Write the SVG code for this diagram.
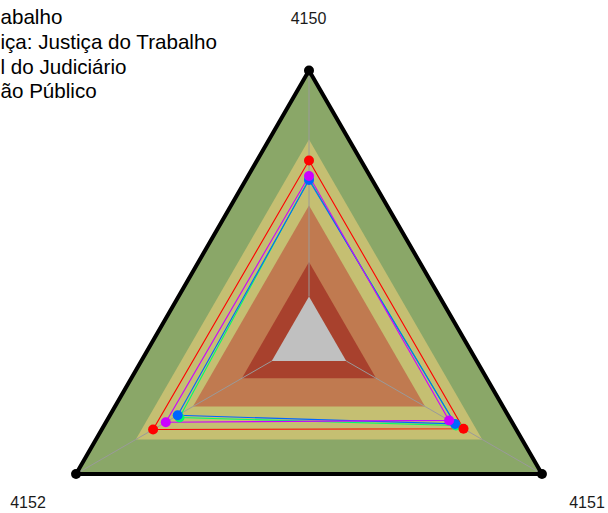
<svg xmlns="http://www.w3.org/2000/svg" width="608" height="513" viewBox="0 0 608 513">
<style>
.lbl{font-family:"Liberation Sans",Arial,sans-serif;font-size:16px;fill:#1a1a1a}
.leg{font-family:"Liberation Sans",Arial,sans-serif;font-size:20.6px;fill:#000}
.axis{stroke:#9a9a9a;stroke-width:1;fill:none}
.ser{fill:none;stroke-width:1.1}
</style>
<rect width="608" height="513" fill="#ffffff"/>
<g id="bands">
<polygon points="309,70.5 541.96,474 76.04,474" fill="#8aa768"/>
<polygon points="309,139.5 482.2,439.5 135.8,439.5" fill="#c5bf72"/>
<polygon points="309,205.5 425.05,406.5 192.95,406.5" fill="#c07a50"/>
<polygon points="309,262 376.1,378.25 241.9,378.25" fill="#a8412d"/>
<polygon points="309,296.5 346.24,361 271.76,361" fill="#c0c0c0"/>
</g>
<g id="axes">
<line class="axis" x1="309" y1="296.5" x2="309" y2="70.5"/>
<line class="axis" x1="346.24" y1="361" x2="541.96" y2="474"/>
<line class="axis" x1="271.76" y1="361" x2="76.04" y2="474"/>
</g>
<g id="connectors">
<polygon class="ser" stroke="#00ff66" points="309,179 456,425.5 179.5,417.5"/>
<polygon class="ser" stroke="#0066ff" points="309,180 455.1,423.9 177.7,415.3"/>
<polygon class="ser" stroke="#cc00ff" points="309,176 449.1,420.4 165.8,422.2"/>
<polygon class="ser" stroke="#ff0000" points="309,160.5 463.5,428.7 153.1,429.5"/>
</g>
<g id="series-green" fill="#00ff66">
<circle cx="309" cy="179" r="5"/><circle cx="456" cy="425.5" r="5"/><circle cx="179.5" cy="417.5" r="5"/>
</g>
<g id="series-blue" fill="#0066ff">
<circle cx="309" cy="180" r="5"/><circle cx="455.1" cy="423.9" r="5"/><circle cx="177.7" cy="415.3" r="5"/>
</g>
<g id="series-magenta" fill="#cc00ff">
<circle cx="309" cy="176" r="5"/><circle cx="449.1" cy="420.4" r="5"/><circle cx="165.8" cy="422.2" r="5"/>
</g>
<g id="series-red" fill="#ff0000">
<circle cx="309" cy="160.5" r="5"/><circle cx="463.5" cy="428.7" r="5"/><circle cx="153.1" cy="429.5" r="5"/>
</g>
<g id="frame">
<polygon points="309,70.5 541.96,474 76.04,474" fill="none" stroke="#000" stroke-width="4" stroke-linejoin="round"/>
<circle cx="309" cy="70.5" r="5" fill="#000"/>
<circle cx="541.96" cy="474" r="5" fill="#000"/>
<circle cx="76.04" cy="474" r="5" fill="#000"/>
</g>
<g id="labels">
<text class="lbl" x="308.5" y="24" text-anchor="middle">4150</text>
<text class="lbl" x="587" y="507.5" text-anchor="middle">4151</text>
<text class="lbl" x="28" y="507.5" text-anchor="middle">4152</text>
</g>
<g id="legend">
<text class="leg" x="0.5" y="24">abalho</text>
<text class="leg" x="0.5" y="49">iça: Justiça do Trabalho</text>
<text class="leg" x="0.5" y="74">l do Judiciário</text>
<text class="leg" x="0.5" y="98">ão Público</text>
</g>
</svg>
